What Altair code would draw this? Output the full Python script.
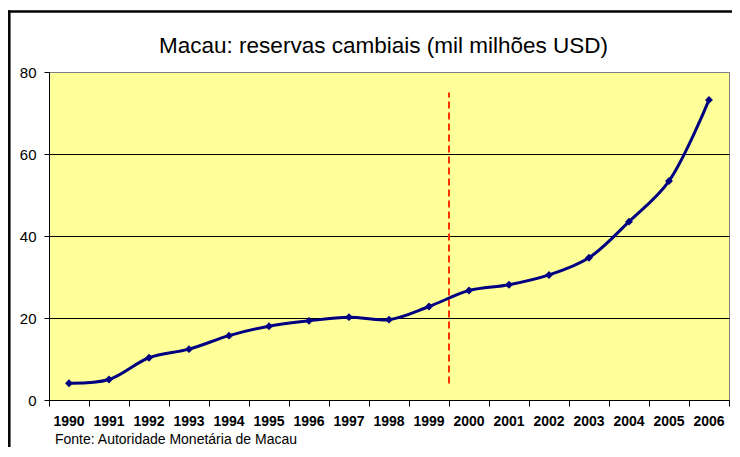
import altair as alt
import pandas as pd

years = list(range(1990, 2007))
reserves = [4.1, 5.0, 10.3, 12.4, 15.7, 18.0, 19.3, 20.2, 19.6, 22.8, 26.7, 28.1, 30.5, 34.7, 43.5, 53.4, 73.2]
y_ticks = [0, 20, 40, 60, 80]
handover = [1999.5]
title_text = "Macau: reservas cambiais (mil milhões USD)"
source_text = "Fonte: Autoridade Monetária de Macau"

FONT = "Liberation Sans"
df = pd.DataFrame({"year": years, "value": reserves, "label": [str(y) for y in years]})

boundaries = [y - 0.5 for y in years] + [years[-1] + 0.5]
x_scale = alt.Scale(domain=[years[0] - 0.5, years[-1] + 0.5], nice=False, zero=False)
x_enc = alt.X(
    "year:Q",
    scale=x_scale,
    axis=alt.Axis(
        title=None, values=boundaries, tickCount=100, grid=False, labels=False,
        tickColor="black", domainColor="black", tickSize=6,
    ),
)
y_enc = alt.Y(
    "value:Q",
    scale=alt.Scale(domain=[0, 80], nice=False),
    axis=alt.Axis(
        title=None, values=y_ticks, tickCount=100, grid=True,
        gridColor={"condition": {"test": "datum.value === 80", "value": "#808080"}, "value": "black"},
        labelFont=FONT, labelFontSize=15, labelColor="black",
        tickColor="black", domainColor="black", tickSize=5, labelPadding=8,
    ),
)

base = alt.Chart(df)
line = base.mark_line(color="#000080", strokeWidth=3, interpolate="catmull-rom").encode(x=x_enc, y=y_enc)
points = base.mark_point(shape="diamond", filled=True, size=62, color="#000080", opacity=1).encode(x=x_enc, y=y_enc)
xlabels = base.mark_text(
    align="center", baseline="alphabetic", font=FONT, fontSize=14, fontWeight="bold", color="black"
).encode(x=alt.X("year:Q", scale=x_scale), y=alt.value(354), text="label:N")

rule = alt.Chart(pd.DataFrame({"year": handover})).mark_rule(
    color="#FF3300", strokeWidth=2, strokeDash=[7, 4]
).encode(x="year:Q", y=alt.datum(4), y2=alt.datum(75))

title = alt.Chart(pd.DataFrame({"t": [title_text]})).mark_text(
    align="center", baseline="alphabetic", font=FONT, fontSize=22.5, color="black"
).encode(text="t:N", x=alt.value(334.5), y=alt.value(-19))

source = alt.Chart(pd.DataFrame({"t": [source_text]})).mark_text(
    align="left", baseline="alphabetic", font=FONT, fontSize=14, color="black"
).encode(text="t:N", x=alt.value(6), y=alt.value(372))

frame_df = pd.DataFrame({"a": [0]})
border_left = alt.Chart(frame_df).mark_rule(color="black", strokeWidth=2.5).encode(
    x=alt.value(-39.7), y=alt.value(-61.5), y2=alt.value(375)
)
border_top = alt.Chart(frame_df).mark_rule(color="black", strokeWidth=2.5).encode(
    x=alt.value(-41), x2=alt.value(683), y=alt.value(-60.5)
)

chart = alt.layer(border_left, border_top, rule, line, points, xlabels, title, source).properties(
    width=680, height=328,
    padding={"left": 41, "top": 64, "right": 3, "bottom": 47},
    autosize="none",
).configure_view(fill="#FFFF99", stroke="#808080", strokeWidth=1)

chart.save("out.html", embed_options={"renderer": "svg", "actions": False})
